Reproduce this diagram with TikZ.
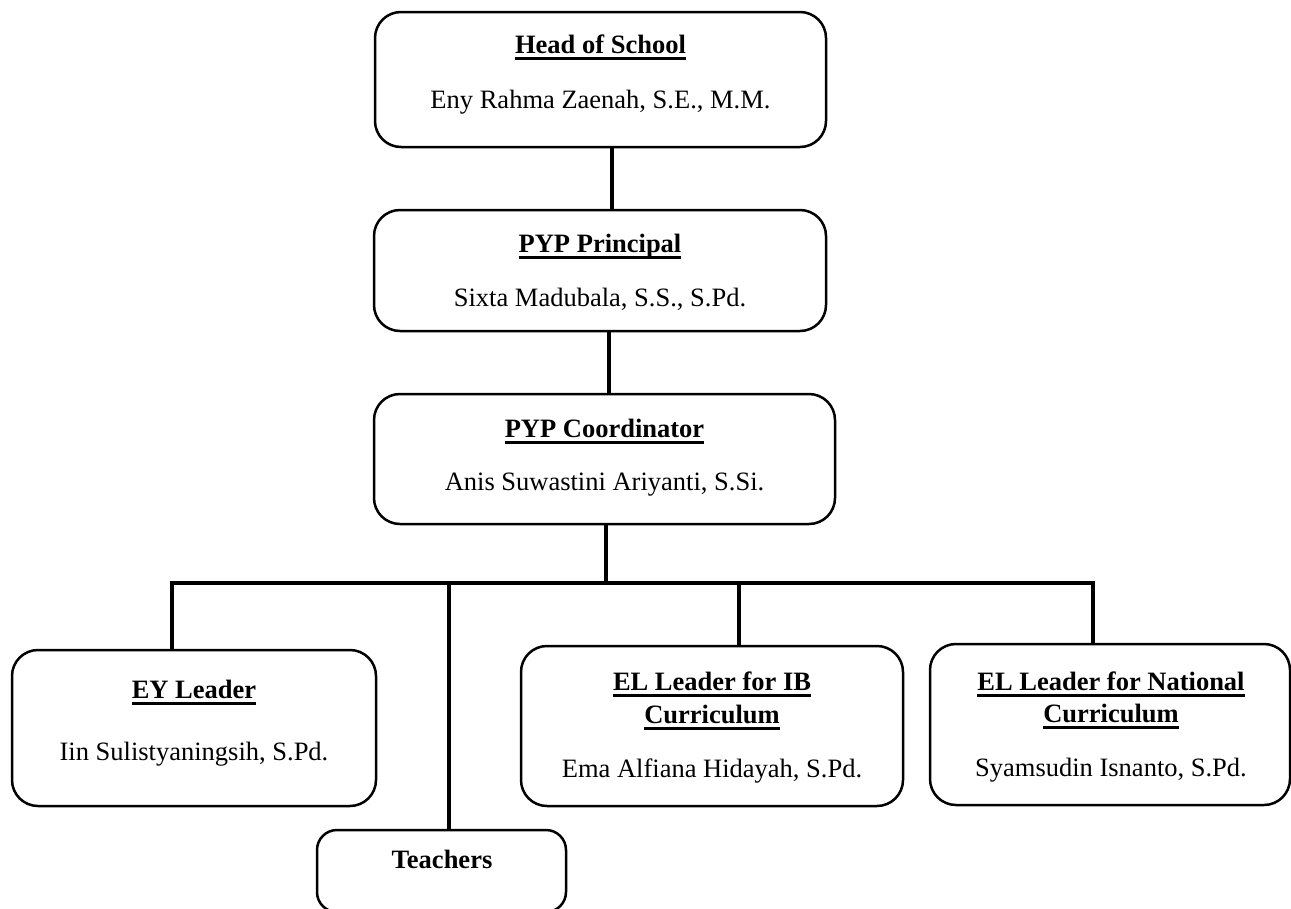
\documentclass[tikz,border=0pt]{standalone}
\usepackage{fontspec}
\setmainfont{Liberation Serif}
\newcommand\ulbox[1]{\setbox0\hbox{#1}\rlap{\rule[-6.5pt]{\wd0}{2.2pt}}\box0}
\tikzset{
  orgbox/.style={draw=black, line width=2.5pt, rounded corners=26pt, fill=white, inner sep=0pt},
  label/.style={anchor=base, inner sep=0pt, font=\fontsize{26.5}{33}\selectfont},
  title/.style={label, font=\fontsize{26.5}{33}\selectfont\bfseries},
  link/.style={line width=3.6pt, line join=miter}
}
\begin{document}
\begin{tikzpicture}[x=1pt, y=-1pt]
\useasboundingbox (0,0) rectangle (1291,908);

% boxes
\node[orgbox, minimum width=451pt, minimum height=135pt] (head)  at (600.5,79.5) {};
\node[orgbox, minimum width=452pt, minimum height=121pt] (prin)  at (600,270.5) {};
\node[orgbox, minimum width=461pt, minimum height=130pt] (coord) at (604.5,459) {};
\node[orgbox, minimum width=364pt, minimum height=156pt] (ey)    at (194,728) {};
\node[orgbox, minimum width=382pt, minimum height=160pt] (elib)  at (712,726) {};
\node[orgbox, minimum width=360pt, minimum height=161pt] (elnat) at (1110,724.5) {};
\node[orgbox, rounded corners=20pt, minimum width=249pt, minimum height=82pt] (teach) at (441.5,871) {};

% connectors
\coordinate (bus) at (606,583);
\draw[link] ([xshift=11.5pt]head.south) -- ([xshift=11.5pt]head.south |- prin.north);
\draw[link] ([xshift=9pt]prin.south) -- ([xshift=4.5pt]coord.north);
\draw[link] ([xshift=1.5pt]coord.south) -- (bus);
\draw[link] ([xshift=-22pt]ey.north) -- ([xshift=-22pt]ey.north |- bus)
  -- ([xshift=-17pt]elnat.north |- bus) -- ([xshift=-17pt]elnat.north);
\draw[link] ([xshift=7.5pt]teach.north |- bus) -- ([xshift=7.5pt]teach.north);
\draw[link] ([xshift=27pt]elib.north |- bus) -- ([xshift=27pt]elib.north);

% texts
\node[title] (t-head) at (600.5,53) {\ulbox{Head of School}};
\node[label] (n-head) at (600.5,108) {Eny Rahma Zaenah, S.E., M.M.};

\node[title] (t-prin) at (600,252) {\ulbox{PYP Principal}};
\node[label] (n-prin) at (600,306) {Sixta Madubala, S.S., S.Pd.};

\node[title] (t-coord) at (604.5,437) {\ulbox{PYP Coordinator}};
\node[label] (n-coord) at (604.5,490) {Anis Suwastini Ariyanti, S.Si.};

\node[title] (t-ey) at (194,698) {\ulbox{EY Leader}};
\node[label] (n-ey) at (194,760) {Iin Sulistyaningsih, S.Pd.};

\node[title] (t-elib1) at (712,690) {\ulbox{EL Leader for IB}};
\node[title] (t-elib2) at (712,723) {\ulbox{Curriculum}};
\node[label] (n-elib) at (712,777) {Ema Alfiana Hidayah, S.Pd.};

\node[title] (t-elnat1) at (1111,690) {\ulbox{EL Leader for National}};
\node[title] (t-elnat2) at (1111,722) {\ulbox{Curriculum}};
\node[label] (n-elnat) at (1111,776) {Syamsudin Isnanto, S.Pd.};

\node[title] (t-teach) at (442,868) {Teachers};
\end{tikzpicture}
\end{document}
